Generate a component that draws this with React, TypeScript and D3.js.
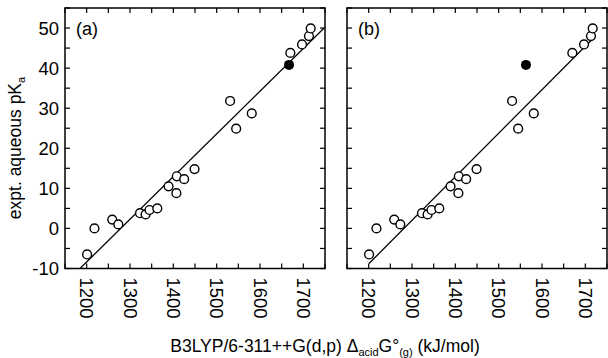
import React from 'react';
import * as d3 from 'd3';

// open circles, shared by both panels
const gasAcidity = [1201, 1218, 1259, 1273, 1323, 1336, 1345, 1363, 1389, 1408, 1407, 1425, 1449, 1531, 1545, 1581, 1670, 1697, 1713, 1717];
const expPka = [-6.5, 0, 2.2, 1, 3.8, 3.5, 4.6, 5, 10.5, 13, 8.8, 12.3, 14.8, 31.8, 24.9, 28.7, 43.8, 45.9, 48, 49.9];

// the filled point sits at a different x in each panel
const panelLabels = ['(a)', '(b)'];
const filledX = [1667, 1563];
const filledY = [40.8, 40.8];

// fitted lines: [x start, x end], slope, intercept
const fitRange = [[1184.6, 1748], [1200.8, 1720]];
const fitSlope = [0.1065, 0.1086];
const fitIntercept = [-136.16, -139.16];

const xTicks = [1200, 1300, 1400, 1500, 1600, 1700];
const yTicks = [-10, 0, 10, 20, 30, 40, 50];

const W = 608;
const H = 358;
const panelLeft = [65, 347];
const panelW = 260;
const top = 8;
const bottom = 268.5;
const font = 'Liberation Sans, Arial, Helvetica, sans-serif';

const Panel = ({ i }: { i: number }) => {
  const x = d3.scaleLinear().domain([1150, 1750]).range([panelLeft[i], panelLeft[i] + panelW]);
  const y = d3.scaleLinear().domain([-10, 55]).range([bottom, top]);
  const minorX = d3.range(1150, 1751, 50);
  const minorY = d3.range(-10, 56, 5);
  const tl = 5;
  const [x0, x1] = fitRange[i];
  const line = d3.line<number>().x((d) => x(d)).y((d) => y(fitSlope[i] * d + fitIntercept[i]));

  return (
    <g>
      {minorX.map((t) => (
        <g key={'xt' + t}>
          <line x1={x(t)} x2={x(t)} y1={bottom} y2={bottom - tl} stroke="#000" strokeWidth={1.2} />
          <line x1={x(t)} x2={x(t)} y1={top} y2={top + tl} stroke="#000" strokeWidth={1.2} />
        </g>
      ))}
      {minorY.map((t) => (
        <g key={'yt' + t}>
          <line x1={x.range()[0]} x2={x.range()[0] + tl} y1={y(t)} y2={y(t)} stroke="#000" strokeWidth={1.2} />
          <line x1={x.range()[1]} x2={x.range()[1] - tl} y1={y(t)} y2={y(t)} stroke="#000" strokeWidth={1.2} />
        </g>
      ))}
      <path d={line([x0, x1]) || ''} stroke="#000" strokeWidth={1.3} fill="none" />
      {gasAcidity.map((d, k) => (
        <circle key={k} cx={x(d)} cy={y(expPka[k])} r={4.4} fill="#fff" stroke="#000" strokeWidth={1.4} />
      ))}
      <circle cx={x(filledX[i])} cy={y(filledY[i])} r={5} fill="#000" />
      <rect x={x.range()[0]} y={top} width={panelW} height={bottom - top} fill="none" stroke="#000" strokeWidth={1.5} />
      <text x={x.range()[0] + 11} y={35} fontSize={18} fontFamily={font}>{panelLabels[i]}</text>
      {xTicks.map((t) => (
        <text key={'xl' + t} transform={`translate(${x(t)},${bottom + 9}) rotate(90)`} fontSize={18.5} fontFamily={font} dominantBaseline="central">
          {t}
        </text>
      ))}
      {i === 0 &&
        yTicks.map((t) => (
          <text key={'yl' + t} x={x.range()[0] - 6} y={y(t)} fontSize={18.5} fontFamily={font} textAnchor="end" dominantBaseline="central">
            {t}
          </text>
        ))}
    </g>
  );
};

export default function App() {
  return (
    <svg width={W} height={H} style={{ position: 'absolute', left: 0, top: 0, background: '#fff' }}>
      <Panel i={0} />
      <Panel i={1} />
      <text transform={`translate(21,148) rotate(-90)`} fontSize={17.5} fontFamily={font} textAnchor="middle">
        expt. aqueous pK<tspan fontSize={11} dy={4}>a</tspan>
      </text>
      <text x={325} y={352} fontSize={17.5} fontFamily={font} textAnchor="middle">
        B3LYP/6-311++G(d,p) Δ<tspan fontSize={11} dy={4}>acid</tspan>
        <tspan dy={-4}>G°</tspan>
        <tspan fontSize={11} dy={4}>(g)</tspan>
        <tspan dy={-4}> (kJ/mol)</tspan>
      </text>
    </svg>
  );
}
